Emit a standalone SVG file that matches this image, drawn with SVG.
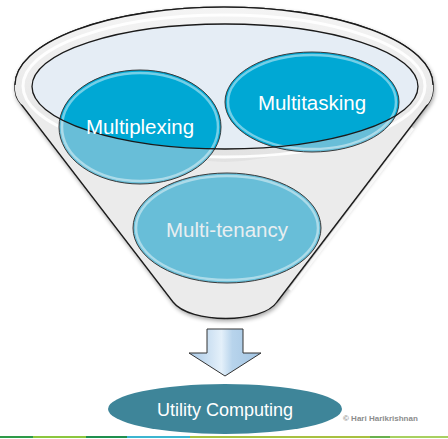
<svg xmlns="http://www.w3.org/2000/svg" width="448" height="439" viewBox="0 0 448 439">
<style>
.lbl{font-family:"Liberation Sans",Arial,sans-serif;font-size:20.5px;fill:#ffffff;text-anchor:middle}
.edge{fill:none;stroke:#3a3a3a;stroke-width:1}
.gloss{fill:none;stroke:#ffffff;stroke-opacity:0.45;stroke-width:2.5}
.bright{fill:#00A8D4}
.muted{fill:#68BED8}
</style>
<defs>
<filter id="sh" x="-10%" y="-10%" width="120%" height="120%">
<feGaussianBlur in="SourceAlpha" stdDeviation="2"/>
<feOffset dx="1" dy="2" result="b"/>
<feComponentTransfer><feFuncA type="linear" slope="0.35"/></feComponentTransfer>
<feMerge><feMergeNode/><feMergeNode in="SourceGraphic"/></feMerge>
</filter>
<clipPath id="mouth"><ellipse cx="225" cy="86.5" rx="193" ry="62.5"/></clipPath>
<linearGradient id="rim" x1="0" y1="0" x2="0" y2="1">
<stop offset="0" stop-color="#f4f4f4"/><stop offset="1" stop-color="#e2e2e2"/>
</linearGradient>
<linearGradient id="arr" x1="0" y1="0" x2="1" y2="0">
<stop offset="0" stop-color="#a9c9e6"/><stop offset="0.45" stop-color="#e4f0fa"/><stop offset="0.6" stop-color="#b8d4ec"/><stop offset="1" stop-color="#a2c4e2"/>
</linearGradient>
</defs>

<g id="funnel">
<path d="M15,85 A209,78 0 0 1 433,85 Q434,96 428,104 L277,302 C262,324 190,324 173,302 L21,104 Q14,96 15,85 Z" fill="#EBEBEB" stroke="#1a1a1a" stroke-width="1.3" filter="url(#sh)"/>
<path d="M15,85 A209,78 0 0 1 433,85 Q434,96 428,104 Q300,160 225,162 Q150,160 21,104 Q14,96 15,85 Z" fill="url(#rim)"/>
<ellipse cx="224" cy="86" rx="201" ry="71" fill="none" stroke="#ffffff" stroke-width="3" stroke-opacity="0.9"/>
<path d="M15,85 A209,78 0 0 1 433,85" fill="none" stroke="#1a1a1a" stroke-width="1.3"/>
<path d="M413,128 L290,290" fill="none" stroke="#ffffff" stroke-width="3" stroke-opacity="0.8"/>
<ellipse cx="225" cy="86.5" rx="193" ry="62.5" fill="#E5EDF5"/>
</g>

<g id="multitenancy">
<ellipse cx="227" cy="228" rx="94" ry="55" class="muted"/>
<ellipse cx="227" cy="228" rx="91" ry="52" class="gloss"/>
<ellipse cx="227" cy="228" rx="94" ry="55" class="edge"/>
<text x="227" y="237" class="lbl" style="fill:#e8eef1">Multi-tenancy</text>
</g>

<g id="multiplexing">
<ellipse cx="140" cy="127" rx="81" ry="57" class="muted"/>
<ellipse cx="140" cy="127" rx="81" ry="57" class="bright" clip-path="url(#mouth)"/>
<ellipse cx="140" cy="127" rx="78" ry="54" class="gloss"/>
<ellipse cx="140" cy="127" rx="81" ry="57" class="edge"/>
</g>

<g id="multitasking">
<ellipse cx="312" cy="102" rx="87" ry="50" class="muted"/>
<ellipse cx="312" cy="102" rx="87" ry="50" class="bright" clip-path="url(#mouth)"/>
<ellipse cx="312" cy="102" rx="84" ry="47" class="gloss"/>
<ellipse cx="312" cy="102" rx="87" ry="50" class="edge"/>
</g>

<g id="mouth-rim">
<ellipse cx="225" cy="86.5" rx="193" ry="62.5" fill="none" stroke="#1a1a1a" stroke-width="1.3"/>
</g>

<g id="labels">
<text x="140" y="134" class="lbl">Multiplexing</text>
<text x="312" y="110" class="lbl">Multitasking</text>
</g>

<g id="connectors">
<polygon points="207,329 243,329 243,353 261,353 225,376 189,353 207,353" fill="url(#arr)" stroke="#333" stroke-width="1"/>
</g>

<g id="utility">
<ellipse cx="225" cy="409" rx="117" ry="25" fill="#3E8599"/>
<text x="225" y="416" class="lbl" style="font-size:18px">Utility Computing</text>
</g>

<g id="copyright">
<text x="343" y="421" font-family="Liberation Sans, Arial, sans-serif" font-size="8" font-weight="bold" fill="#8c8c8c">© Hari Harikrishnan</text>
</g>

<g id="footer">
<rect x="0" y="436" width="33" height="2" fill="#2e9a48"/>
<rect x="33" y="436" width="53" height="2" fill="#8cc63e"/>
<rect x="86" y="436" width="41" height="2" fill="#1f8f4e"/>
<rect x="127" y="436" width="63" height="2" fill="#3cb5d0"/>
<rect x="190" y="436" width="180" height="2" fill="#a8c040"/>
<rect x="370" y="436" width="20" height="2" fill="#6ab04c"/>
<rect x="390" y="436" width="58" height="2" fill="#a8d060"/>
</g>
</svg>
